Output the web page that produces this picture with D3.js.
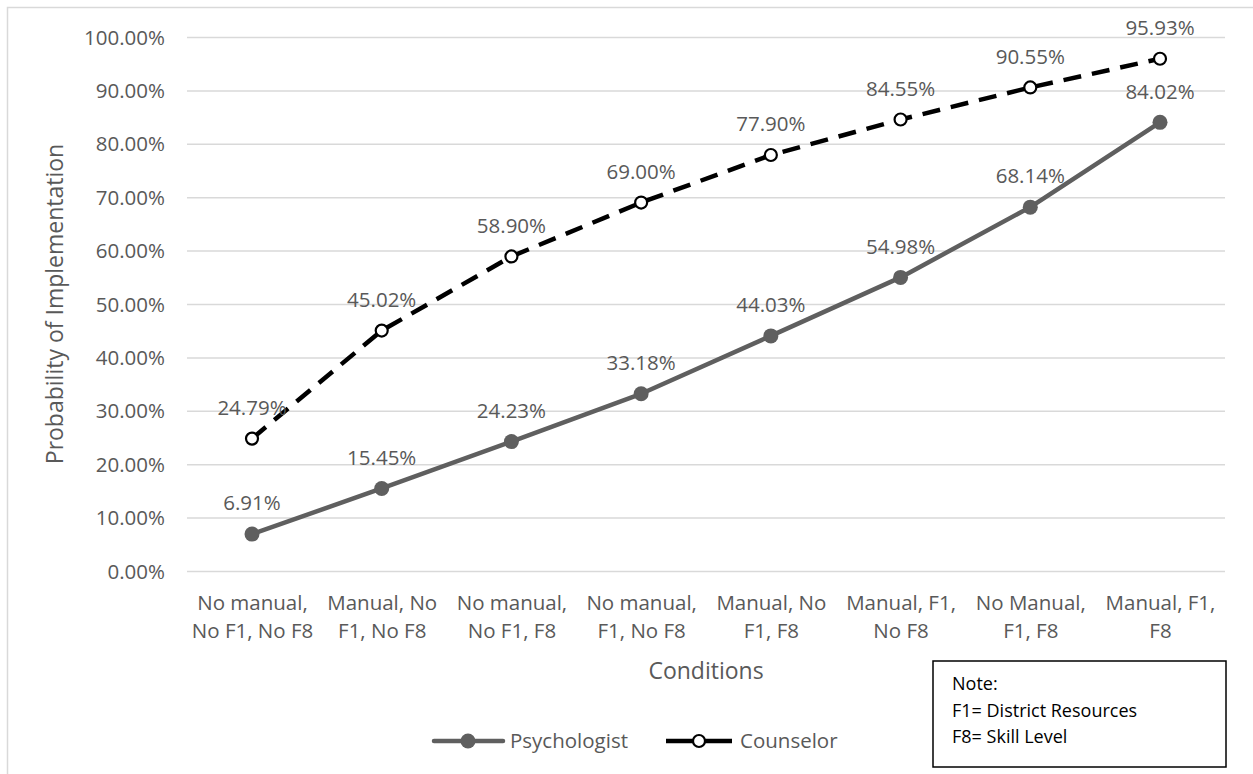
<!DOCTYPE html>
<html><head><meta charset="utf-8">
<script src="https://cdn.jsdelivr.net/npm/d3@7"></script>
<style>body{margin:0;background:#fff}svg{display:block}text{font-family:"Open Sans",sans-serif}</style>
</head><body><svg id="c" width="1253" height="774"></svg>
<script>
const categories = [["No manual,","No F1, No F8"],["Manual, No","F1, No F8"],["No manual,","No F1, F8"],["No manual,","F1, No F8"],["Manual, No","F1, F8"],["Manual, F1,","No F8"],["No Manual,","F1, F8"],["Manual, F1,","F8"]];
const psychologist = [6.91, 15.45, 24.23, 33.18, 44.03, 54.98, 68.14, 84.02];
const counselor = [24.79, 45.02, 58.90, 69.00, 77.90, 84.55, 90.55, 95.93];
const yTicks = [0,10,20,30,40,50,60,70,80,90,100];
const noteLines = ["Note:","F1= District Resources","F8= Skill Level"];

const svg = d3.select("#c");
const grey = "#595959";
const fs = 20.5;
svg.append("rect").attr("x",7.5).attr("y",7.5).attr("width",1300).attr("height",800).attr("fill","none").attr("stroke","#d9d9d9").attr("stroke-width",1.5);

const x = d3.scalePoint().domain(d3.range(categories.length)).range([252,1160]);
const y = d3.scaleLinear().domain([0,100]).range([571,37]);
const left = 187, right = 1225;

const g = svg.append("g");
g.selectAll("line.grid").data(yTicks).join("line").attr("class","grid")
  .attr("x1",left).attr("x2",right).attr("y1",d=>y(d)+0.5).attr("y2",d=>y(d)+0.5)
  .attr("stroke","#d9d9d9").attr("stroke-width",1.5);

const yAxis = d3.axisLeft(y).tickValues(yTicks).tickSize(0).tickPadding(0).tickFormat(d=>d.toFixed(2)+"%");
const ya = svg.append("g").attr("transform","translate(165,0)").call(yAxis);
ya.select(".domain").remove();
ya.selectAll("text").attr("fill",grey).attr("font-size",fs).attr("dy","0.35em");

const xAxis = d3.axisBottom(x).tickSize(0).tickFormat(()=>"");
const xa = svg.append("g").attr("transform","translate(0,571)").call(xAxis);
xa.select(".domain").remove();
xa.selectAll(".tick").each(function(i){
  const t = d3.select(this).append("text").attr("fill",grey).attr("font-size",fs).attr("text-anchor","middle");
  categories[i].forEach((s,k)=>t.append("tspan").attr("x",0).attr("y",39+k*27.5).text(s));
});

svg.append("text").attr("x",706).attr("y",679).attr("text-anchor","middle").attr("fill",grey).attr("font-size",23).text("Conditions");
svg.append("text").attr("transform","translate(63,304) rotate(-90)").attr("text-anchor","middle").attr("fill",grey).attr("font-size",23).text("Probability of Implementation");

const line = d3.line().x((d,i)=>x(i)).y(d=>y(d));
svg.append("path").datum(psychologist).attr("d",line).attr("fill","none").attr("stroke","#5f5f5f").attr("stroke-width",4.5).attr("stroke-linejoin","round");
svg.append("path").datum(counselor).attr("d",line).attr("fill","none").attr("stroke","#000").attr("stroke-width",4.5).attr("stroke-dasharray","18,11");

svg.selectAll("circle.p").data(psychologist).join("circle").attr("class","p").attr("cx",(d,i)=>x(i)).attr("cy",d=>y(d)).attr("r",7.5).attr("fill","#5f5f5f");
svg.selectAll("circle.c").data(counselor).join("circle").attr("class","c").attr("cx",(d,i)=>x(i)).attr("cy",d=>y(d)).attr("r",6).attr("fill","#fff").attr("stroke","#000").attr("stroke-width",2.2);

const lbl = (data)=>svg.append("g").selectAll("text").data(data).join("text")
  .attr("x",(d,i)=>x(i)).attr("y",d=>y(d)-31).attr("dy","0.35em").attr("text-anchor","middle")
  .attr("fill",grey).attr("font-size",fs).text(d=>d.toFixed(2)+"%");
lbl(psychologist); lbl(counselor);

// legend
const lg = svg.append("g");
lg.append("line").attr("x1",434).attr("x2",503).attr("y1",741).attr("y2",741).attr("stroke","#5f5f5f").attr("stroke-width",4.5).attr("stroke-linecap","round");
lg.append("circle").attr("cx",468).attr("cy",741).attr("r",7.5).attr("fill","#5f5f5f");
lg.append("text").attr("x",510).attr("y",741).attr("dy","0.35em").attr("fill",grey).attr("font-size",fs).text("Psychologist");
lg.append("line").attr("x1",666).attr("x2",732).attr("y1",741).attr("y2",741).attr("stroke","#000").attr("stroke-width",4.5);
lg.append("circle").attr("cx",699).attr("cy",741).attr("r",6).attr("fill","#fff").attr("stroke","#000").attr("stroke-width",2.2);
lg.append("text").attr("x",740).attr("y",741).attr("dy","0.35em").attr("fill",grey).attr("font-size",fs).text("Counselor");

// note box
svg.append("rect").attr("x",933).attr("y",661).attr("width",293).attr("height",106).attr("fill","#fff").attr("stroke","#000").attr("stroke-width",1.5);
svg.append("g").selectAll("text").data(noteLines).join("text").attr("x",952).attr("y",(d,i)=>690+i*26.5)
  .attr("fill","#000").attr("font-size",18).text(d=>d);
</script></body></html>
